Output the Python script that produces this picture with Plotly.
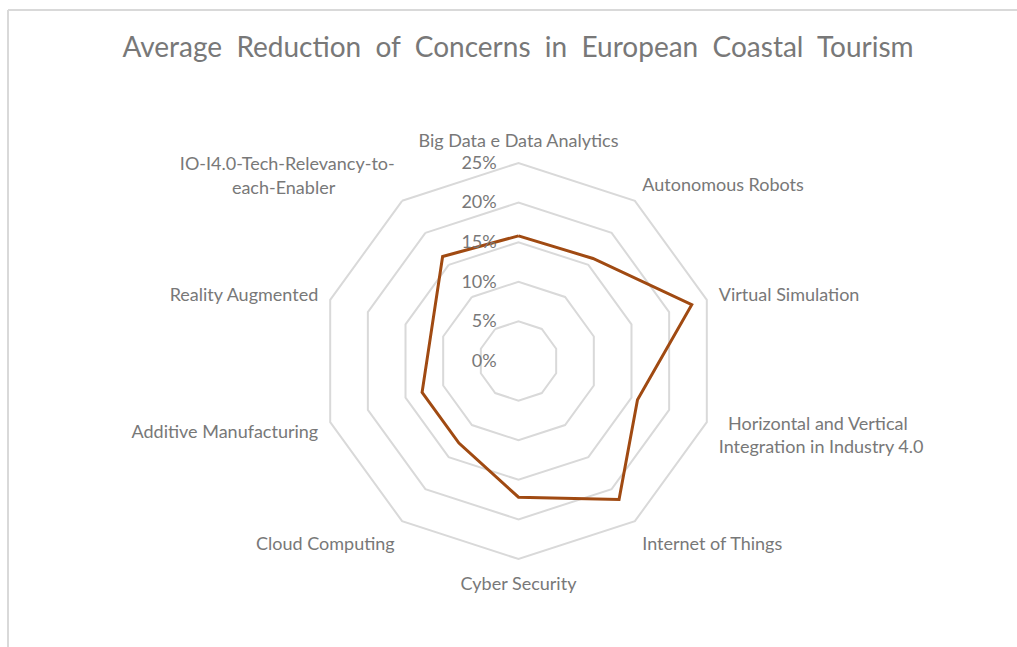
import plotly.graph_objects as go

NB = "\u00a0"

# Average reduction of concerns per Industry 4.0 enabler
categories = [
    "Big Data e Data Analytics",
    "Autonomous Robots",
    "Virtual Simulation",
    NB * 2 + "Horizontal and Vertical<br>Integration in Industry 4.0",
    "Internet of Things",
    "Cyber Security",
    "Cloud Computing",
    "Additive Manufacturing",
    "Reality Augmented",
    "IO-I4.0-Tech-Relevancy-to-<br>each-Enabler" + NB * 13,
]
reduction = [0.158, 0.160, 0.230, 0.158, 0.216, 0.172, 0.128, 0.128, 0.116, 0.163]

radial_ticks = [0, 0.05, 0.10, 0.15, 0.20, 0.25]
radial_tick_text = ["0%", "5%", "10%", "15%", "20%", "25%"]

title_text = "Average  Reduction  of  Concerns  in  European  Coastal  Tourism"

TEXT = "#787878"
GRID = "#d9d9d9"
LINE = "#a04a12"
FONT = "Lato"

W, H = 1017, 647
cx, cy, R = 518.5, 361.0, 198.0  # chart centre and outer radius in pixels

fig = go.Figure()
fig.add_trace(
    go.Scatterpolar(
        r=reduction + reduction[:1],
        theta=categories + categories[:1],
        mode="lines",
        line=dict(color=LINE, width=3),
        hoverinfo="skip",
        showlegend=False,
    )
)

fig.update_layout(
    width=W,
    height=H,
    margin=dict(l=0, r=0, t=0, b=0),
    paper_bgcolor="white",
    plot_bgcolor="white",
    font=dict(family=FONT, color=TEXT),
    title=dict(
        text=title_text,
        x=518 / W,
        xanchor="center",
        y=1 - 47 / H,
        yanchor="middle",
        font=dict(family=FONT, size=28, color=TEXT),
    ),
    polar=dict(
        domain=dict(
            x=[(cx - R) / W, (cx + R) / W],
            y=[(H - cy - R) / H, (H - cy + R) / H],
        ),
        gridshape="linear",
        bgcolor="white",
        radialaxis=dict(
            range=[0, 0.25],
            tickvals=radial_ticks,
            ticktext=radial_tick_text,
            angle=90,
            tickangle=90,
            side="counterclockwise",
            showline=False,
            ticks="outside",
            ticklen=15,
            tickcolor="rgba(0,0,0,0)",
            gridcolor=GRID,
            gridwidth=2,
            tickfont=dict(family=FONT, size=18, color=TEXT),
        ),
        angularaxis=dict(
            type="category",
            categoryorder="array",
            categoryarray=categories,
            direction="clockwise",
            rotation=90,
            showgrid=False,
            showline=True,
            linecolor=GRID,
            linewidth=2,
            ticks="outside",
            ticklen=8,
            tickcolor="rgba(0,0,0,0)",
            tickfont=dict(family=FONT, size=18, color=TEXT),
        ),
    ),
    shapes=[
        # chart-area border along the top and left edges
        dict(
            type="line", xref="paper", yref="paper",
            x0=8 / W, x1=8 / W, y0=-0.01, y1=1 - 10 / H,
            line=dict(color=GRID, width=2),
        ),
        dict(
            type="line", xref="paper", yref="paper",
            x0=8 / W, x1=1.01, y0=1 - 10 / H, y1=1 - 10 / H,
            line=dict(color=GRID, width=2),
        ),
    ],
)

fig.write_html("out.html")
